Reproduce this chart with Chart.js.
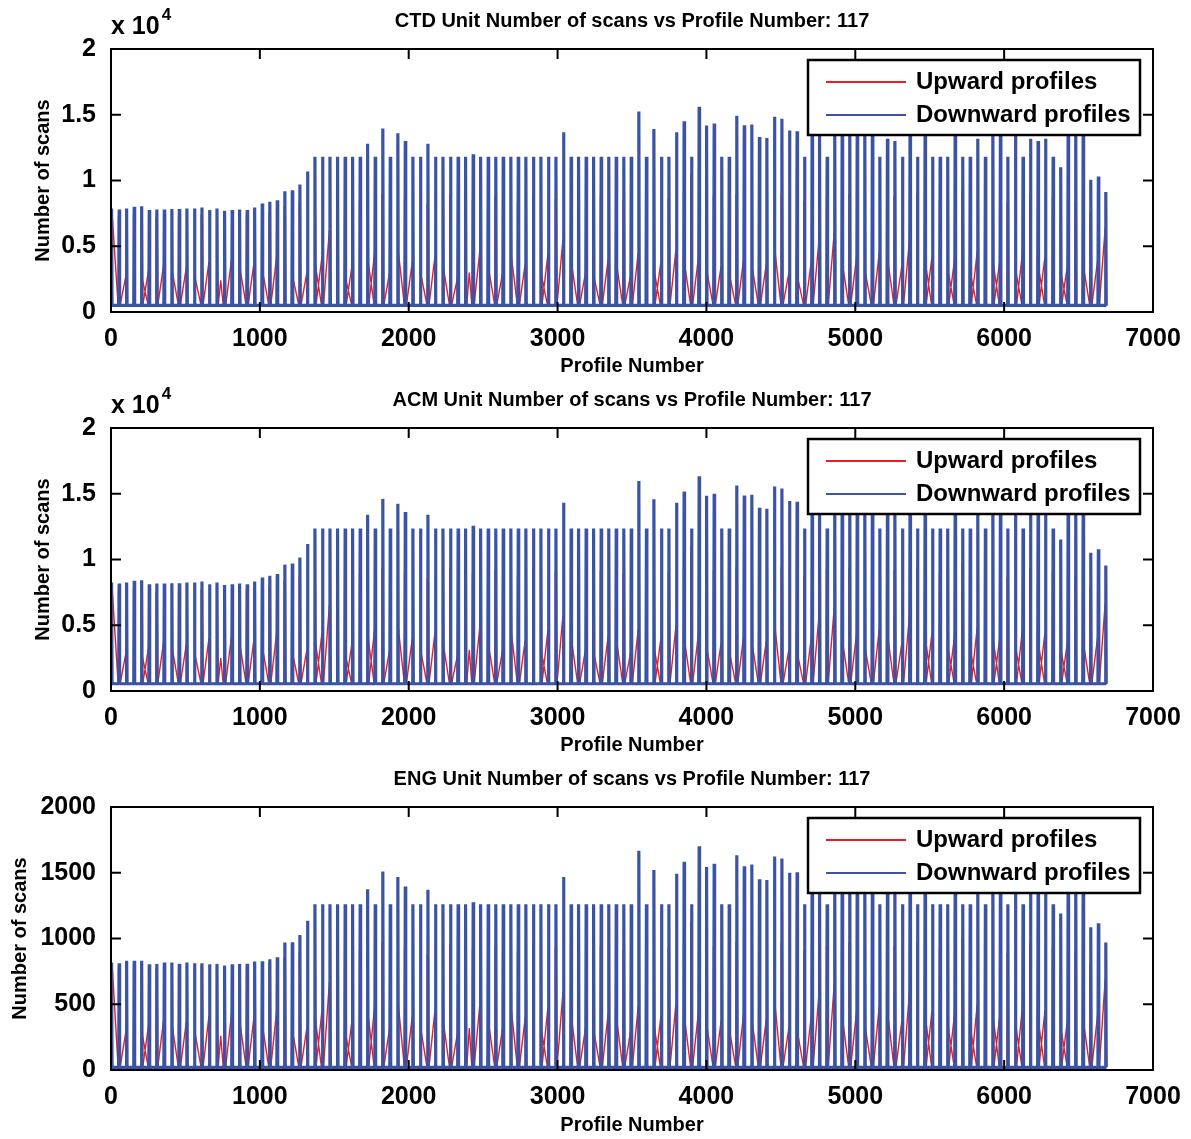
<!DOCTYPE html>
<html>
<head>
<meta charset="utf-8">
<script src="https://cdn.jsdelivr.net/npm/chart.js@4.4.0/dist/chart.umd.min.js"></script>
<style>
  body { margin: 0; background: #fff; }
  #wrap { position: relative; width: 1191px; height: 1139px; }
  canvas { position: absolute; left: 0; }
</style>
</head>
<body>
<div id="wrap">
  <canvas id="ctd" width="1191" height="380" style="top:0px"></canvas>
  <canvas id="acm" width="1191" height="380" style="top:379px"></canvas>
  <canvas id="eng" width="1191" height="381" style="top:758px"></canvas>
</div>
<script>
// profile number of each downward spike
const spikeProfiles = [
  4, 55, 105, 156, 206, 257, 308, 358, 409, 459,
  510, 561, 611, 662, 712, 763, 814, 864, 915, 965,
  1016, 1067, 1117, 1168, 1218, 1269, 1320, 1370, 1421, 1471,
  1522, 1573, 1623, 1674, 1724, 1775, 1826, 1876, 1927, 1977,
  2028, 2079, 2129, 2180, 2230, 2281, 2332, 2382, 2433, 2483,
  2534, 2585, 2635, 2686, 2736, 2787, 2838, 2888, 2939, 2989,
  3040, 3091, 3141, 3192, 3242, 3293, 3344, 3394, 3445, 3495,
  3546, 3597, 3647, 3698, 3748, 3799, 3850, 3900, 3951, 4001,
  4052, 4103, 4153, 4204, 4254, 4305, 4356, 4406, 4457, 4507,
  4558, 4609, 4659, 4710, 4760, 4811, 4862, 4912, 4963, 5013,
  5064, 5115, 5165, 5216, 5266, 5317, 5368, 5418, 5469, 5519,
  5570, 5621, 5671, 5722, 5772, 5823, 5874, 5924, 5975, 6025,
  6076, 6127, 6177, 6228, 6278, 6329, 6380, 6430, 6481, 6531,
  6582, 6633, 6683
];

// number of scans, downward profiles
const downCTD = [
  7875, 7800, 7875, 8000, 8050, 7750, 7800, 7800, 7825, 7825,
  7875, 7875, 7950, 7750, 7875, 7700, 7750, 7800, 7750, 7950,
  8250, 8375, 8500, 9175, 9250, 9700, 10675, 11800, 11800, 11800,
  11800, 11800, 11800, 11800, 12800, 11800, 13950, 11800, 13600, 13000,
  11800, 11800, 12800, 11800, 11800, 11800, 11800, 11800, 12000, 11800,
  11800, 11800, 11800, 11800, 11800, 11800, 11800, 11800, 11800, 11800,
  13675, 11800, 11800, 11800, 11800, 11800, 11800, 11800, 11800, 11800,
  15250, 11800, 13925, 11800, 11800, 13675, 14500, 11800, 15600, 14175,
  14325, 11800, 11800, 14925, 14200, 14250, 13300, 13225, 14850, 14700,
  13800, 13750, 11800, 14500, 14000, 11800, 14800, 15200, 14300, 14600,
  13900, 15000, 11800, 13175, 13000, 11800, 14700, 11800, 14200, 11800,
  11800, 11800, 14000, 11800, 11800, 13175, 11800, 14900, 14300, 11800,
  14600, 11800, 13175, 13000, 13175, 11800, 11000, 14500, 15000, 14200,
  10050, 10300, 9125
];
const downACM = [
  8250, 8170, 8250, 8380, 8430, 8110, 8170, 8170, 8190, 8190,
  8250, 8250, 8320, 8110, 8250, 8060, 8110, 8170, 8110, 8320,
  8640, 8770, 8900, 9610, 9690, 10160, 11180, 12360, 12360, 12360,
  12360, 12360, 12360, 12360, 13400, 12360, 14610, 12360, 14240, 13610,
  12360, 12360, 13400, 12360, 12360, 12360, 12360, 12360, 12560, 12360,
  12360, 12360, 12360, 12360, 12360, 12360, 12360, 12360, 12360, 12360,
  14320, 12360, 12360, 12360, 12360, 12360, 12360, 12360, 12360, 12360,
  15970, 12360, 14580, 12360, 12360, 14320, 15180, 12360, 16330, 14840,
  15000, 12360, 12360, 15630, 14870, 14920, 13930, 13850, 15550, 15390,
  14450, 14400, 12360, 15180, 14660, 12360, 15500, 15910, 14970, 15290,
  14550, 15700, 12360, 13790, 13610, 12360, 15390, 12360, 14870, 12360,
  12360, 12360, 14660, 12360, 12360, 13790, 12360, 15600, 14970, 12360,
  15290, 12360, 13790, 13610, 13790, 12360, 11520, 15180, 15700, 14870,
  10520, 10780, 9550
];
const downENG = [
  817, 812, 830, 830, 830, 805, 807, 817, 817, 807,
  817, 812, 812, 805, 807, 795, 805, 807, 807, 825,
  827, 842, 857, 970, 972, 1027, 1135, 1260, 1260, 1260,
  1260, 1260, 1260, 1260, 1375, 1260, 1510, 1260, 1467, 1395,
  1260, 1260, 1370, 1260, 1260, 1260, 1260, 1260, 1275, 1260,
  1260, 1260, 1260, 1260, 1260, 1260, 1260, 1260, 1260, 1260,
  1467, 1260, 1260, 1260, 1260, 1260, 1260, 1260, 1260, 1260,
  1668, 1260, 1520, 1260, 1260, 1492, 1583, 1260, 1701, 1543,
  1568, 1260, 1260, 1633, 1550, 1563, 1450, 1445, 1623, 1608,
  1500, 1503, 1260, 1580, 1530, 1260, 1610, 1650, 1560, 1590,
  1515, 1630, 1260, 1440, 1420, 1260, 1600, 1260, 1550, 1260,
  1260, 1260, 1530, 1260, 1260, 1440, 1260, 1620, 1560, 1260,
  1590, 1260, 1440, 1420, 1440, 1260, 1191, 1580, 1630, 1550,
  1085, 1115, 970
];

// upward profile next to each spike: U rises into it, D falls away, H hugs it, T sits in the gap
const upShape =
  'DHUHDUHUDH' + 'UDHUTHUDHU' + 'DHUHDHUDUU' + 'HDUHDUHUDH' + 'UDHUDHUTHU' +
  'DHUDHUHDUH' + 'UDHUDHUDHU' + 'UHDUHUDHUD' + 'HUDHUDHUDH' + 'UDHUUHUDHU' +
  'DHUDHUUHDU' + 'HDUHDUHDUH' + 'DUHDUHDUHD' + 'HUU';

const upCTD = [
  7400, 7300, 2800, 7500, 2500, 3200, 7200, 3600, 3000, 7300,
  3400, 2600, 7400, 3800, 2400, 7100, 4000, 3200, 7400, 3800,
  3000, 7600, 4200, 8000, 2600, 8300, 3000, 3500, 4200, 6200,
  8800, 2500, 3500, 8500, 3800, 4500, 9000, 3000, 4500, 8600,
  3800, 2800, 8200, 4200, 3300, 8900, 2600, 3000, 8500, 4800,
  3200, 8800, 3000, 4200, 8400, 3700, 9000, 2800, 4400, 8600,
  5500, 3600, 8200, 3000, 2600, 8800, 4000, 3500, 8500, 2800,
  4500, 9200, 3000, 3800, 8600, 4700, 3600, 10500, 4200, 3000,
  8800, 3500, 2700, 9000, 4000, 3300, 8500, 3600, 4600, 9000,
  3000, 2600, 8400, 4000, 5400, 8800, 6000, 3500, 9000, 4200,
  3000, 8600, 4500, 3800, 8800, 3500, 5500, 9000, 3600, 4200,
  8500, 3000, 4000, 9300, 2800, 4600, 8800, 3600, 3900, 8300,
  3000, 4500, 9000, 3300, 4200, 8700, 2800, 3600, 8400, 3300,
  7500, 4000, 6400
];
const upACM = [
  7750, 7640, 2930, 7850, 2620, 3350, 7540, 3770, 3140, 7640,
  3560, 2720, 7750, 3980, 2510, 7430, 4190, 3350, 7750, 3980,
  3140, 7960, 4400, 8380, 2720, 8690, 3140, 3660, 4400, 6490,
  9210, 2620, 3660, 8900, 3980, 4710, 9420, 3140, 4710, 9000,
  3980, 2930, 8590, 4400, 3460, 9320, 2720, 3140, 8900, 5030,
  3350, 9210, 3140, 4400, 8790, 3870, 9420, 2930, 4610, 9000,
  5760, 3770, 8590, 3140, 2720, 9210, 4190, 3660, 8900, 2930,
  4710, 9630, 3140, 3980, 9000, 4920, 3770, 10990, 4400, 3140,
  9210, 3660, 2830, 9420, 4190, 3460, 8900, 3770, 4820, 9420,
  3140, 2720, 8790, 4190, 5650, 9210, 6280, 3660, 9420, 4400,
  3140, 9000, 4710, 3980, 9210, 3660, 5760, 9420, 3770, 4400,
  8900, 3140, 4190, 9740, 2930, 4820, 9210, 3770, 4080, 8690,
  3140, 4710, 9420, 3460, 4400, 9110, 2930, 3770, 8790, 3460,
  7850, 4190, 6700
];
const upENG = [
  795, 785, 300, 805, 270, 345, 775, 385, 320, 785,
  365, 280, 795, 410, 260, 765, 430, 345, 795, 410,
  320, 815, 450, 860, 280, 890, 320, 375, 450, 665,
  945, 270, 375, 915, 410, 485, 970, 320, 485, 925,
  410, 300, 880, 450, 355, 955, 280, 320, 915, 515,
  345, 945, 320, 450, 905, 400, 970, 300, 475, 925,
  590, 385, 880, 320, 280, 945, 430, 375, 915, 300,
  485, 990, 320, 410, 925, 505, 385, 1130, 450, 320,
  945, 375, 290, 970, 430, 355, 915, 385, 495, 970,
  320, 280, 905, 430, 580, 945, 645, 375, 970, 450,
  320, 925, 485, 410, 945, 375, 590, 970, 385, 450,
  915, 320, 430, 1000, 300, 495, 945, 385, 420, 890,
  320, 485, 970, 355, 450, 935, 300, 385, 905, 355,
  805, 430, 690
];

// scans between profiles
const baseCTD = 500;
const baseACM = 550;
const baseENG = 20;

const legendLabels = ['Upward profiles', 'Downward profiles'];

const FONT = "'Liberation Sans', Arial, Helvetica, sans-serif";
const RED = '#ed1c24';
const BLUE = '#3a53a4';

Chart.defaults.font.family = FONT;
Chart.defaults.color = '#000';

// offsets (in profile numbers) of start / apex / end of an upward profile
const shapeOffsets = { U: [-44, -4, -3], D: [3, 4, 44], H: [-6, -5, -4], T: [8, 25, 42] };

const downSeries = (peaks, base) => {
    const pts = [];
    spikeProfiles.forEach((p, i) => {
        pts.push({ x: p - 3, y: base }, { x: p, y: peaks[i] }, { x: p + 3, y: base });
    });
    return pts;
};

const upSeries = (peaks, base) => {
    const pts = [{ x: 0, y: base }];
    spikeProfiles.forEach((p, i) => {
        const [a, b, c] = shapeOffsets[upShape[i]];
        pts.push({ x: p + a, y: base }, { x: p + b, y: peaks[i] }, { x: p + c, y: base });
    });
    return pts;
};

// box, inward ticks, title, exponent and legend drawn like the MATLAB figure
const framePlugin = {
    id: 'frame',
    afterDatasetsDraw(chart, args, opts) {
        const { ctx, chartArea: a, scales: { x, y } } = chart;
        ctx.save();
        ctx.strokeStyle = '#000';
        ctx.lineWidth = 2;
        ctx.strokeRect(a.left, a.top, a.right - a.left, a.bottom - a.top);
        ctx.beginPath();
        x.ticks.forEach(t => {
            const px = x.getPixelForValue(t.value);
            ctx.moveTo(px, a.bottom); ctx.lineTo(px, a.bottom - 10);
            ctx.moveTo(px, a.top); ctx.lineTo(px, a.top + 10);
        });
        y.ticks.forEach(t => {
            const py = y.getPixelForValue(t.value);
            ctx.moveTo(a.left, py); ctx.lineTo(a.left + 10, py);
            ctx.moveTo(a.right, py); ctx.lineTo(a.right - 10, py);
        });
        ctx.stroke();

        // title
        ctx.fillStyle = '#000';
        ctx.font = `bold 20px ${FONT}`;
        ctx.textAlign = 'center';
        ctx.textBaseline = 'middle';
        ctx.fillText(opts.title, (a.left + a.right) / 2, 21);

        // exponent
        if (opts.exponent) {
            ctx.textAlign = 'left';
            ctx.font = `bold 25px ${FONT}`;
            ctx.fillText('x 10', a.left, 27);
            const w = ctx.measureText('x 10').width;
            ctx.font = `bold 17px ${FONT}`;
            ctx.fillText(opts.exponent, a.left + w + 2, 15);
        }

        // legend
        const lx = a.left + 697, ly = a.top + 11, lw = 332, lh = 75;
        ctx.fillStyle = '#fff';
        ctx.fillRect(lx, ly, lw, lh);
        ctx.lineWidth = 2.5;
        ctx.strokeStyle = '#000';
        ctx.strokeRect(lx, ly, lw, lh);
        chart.data.datasets.forEach((ds, i) => {
            const yy = ly + 22 + i * 33;
            ctx.strokeStyle = ds.borderColor;
            ctx.lineWidth = 2;
            ctx.beginPath();
            ctx.moveTo(lx + 18, yy);
            ctx.lineTo(lx + 98, yy);
            ctx.stroke();
            ctx.fillStyle = '#000';
            ctx.font = `bold 24px ${FONT}`;
            ctx.textAlign = 'left';
            ctx.textBaseline = 'middle';
            ctx.fillText(ds.label, lx + 108, yy);
        });
        ctx.restore();
    }
};

const makePanel = (id, unit, up, down, base, yMax, yStep, yDiv, exponent, yTitlePad) => {
    const canvas = document.getElementById(id);
    return new Chart(canvas.getContext('2d'), {
        type: 'line',
        data: {
            datasets: [
                {
                    label: legendLabels[0],
                    data: upSeries(up, base),
                    borderColor: RED,
                    borderWidth: 1.4,
                    pointRadius: 0,
                    borderJoinStyle: 'bevel',
                    order: 2
                },
                {
                    label: legendLabels[1],
                    data: downSeries(down, base),
                    borderColor: BLUE,
                    borderWidth: 3.2,
                    pointRadius: 0,
                    borderJoinStyle: 'bevel',
                    order: 1
                }
            ]
        },
        options: {
            responsive: false,
            animation: false,
            events: [],
            layout: { padding: { top: 49, left: 0, right: 38, bottom: 0 } },
            plugins: {
                legend: { display: false },
                tooltip: { enabled: false },
                frame: { title: `${unit} Unit Number of scans vs Profile Number: 117`, exponent: exponent }
            },
            scales: {
                x: {
                    type: 'linear',
                    min: 0,
                    max: 7000,
                    grid: { display: false },
                    border: { display: false },
                    ticks: { stepSize: 1000, autoSkip: false, maxRotation: 0, padding: 4,
                             font: { size: 25, weight: 'bold' }, callback: v => String(v) },
                    title: { display: true, text: 'Profile Number', padding: { top: 0, bottom: 2 },
                             font: { size: 20, weight: 'bold' } },
                    afterFit: s => { s.height = s.chart.height - 312; s.paddingLeft = 0; s.paddingRight = 0; }
                },
                y: {
                    min: 0,
                    max: yMax,
                    grid: { display: false },
                    border: { display: false },
                    ticks: { stepSize: yStep, padding: 7, font: { size: 25, weight: 'bold' },
                             callback: v => String(v / yDiv) },
                    title: { display: true, text: 'Number of scans', padding: { top: yTitlePad, bottom: 0 },
                             font: { size: 20, weight: 'bold' } },
                    afterFit: s => { s.width = 111; s.paddingTop = 0; s.paddingBottom = 0; }
                }
            }
        },
        plugins: [framePlugin]
    });
};

makePanel('ctd', 'CTD', upCTD, downCTD, baseCTD, 20000, 5000, 10000, '4', 31);
makePanel('acm', 'ACM', upACM, downACM, baseACM, 20000, 5000, 10000, '4', 31);
makePanel('eng', 'ENG', upENG, downENG, baseENG, 2000, 500, 1, null, 8);
</script>
</body>
</html>
